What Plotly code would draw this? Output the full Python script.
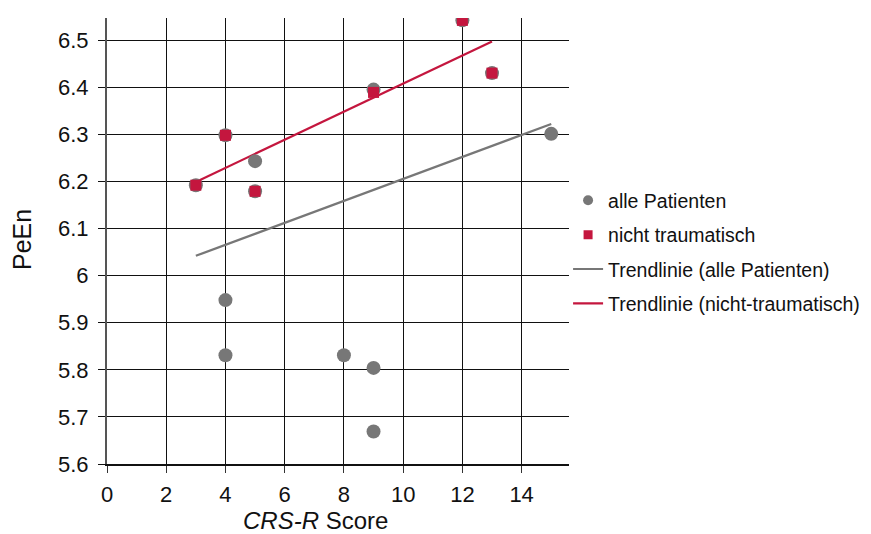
import plotly.graph_objects as go

# data
all_x = [3, 4, 4, 4, 5, 5, 8, 9, 9, 9, 12, 13, 15]
all_y = [6.192, 6.298, 5.948, 5.831, 6.243, 6.179, 5.831, 6.395, 5.804, 5.669, 6.542, 6.430, 6.301]
nt_x = [3, 4, 5, 9, 12, 13]
nt_y = [6.192, 6.298, 6.179, 6.389, 6.542, 6.430]
trend_all_x = [3, 15]
trend_all_y = [6.042, 6.322]
trend_nt_x = [3, 13]
trend_nt_y = [6.199, 6.497]
x_ticks = [0, 2, 4, 6, 8, 10, 12, 14]
y_ticks = [5.6, 5.7, 5.8, 5.9, 6.0, 6.1, 6.2, 6.3, 6.4, 6.5]
y_labels = ["5.6", "5.7", "5.8", "5.9", "6", "6.1", "6.2", "6.3", "6.4", "6.5"]

GRAY = "#777777"
RED = "#c4163e"
FONT = "Liberation Sans, Arial, sans-serif"

fig = go.Figure()
fig.add_trace(go.Scatter(x=trend_all_x, y=trend_all_y, mode="lines",
                         line=dict(color=GRAY, width=2.2), showlegend=False, hoverinfo="skip"))
fig.add_trace(go.Scatter(x=trend_nt_x, y=trend_nt_y, mode="lines",
                         line=dict(color=RED, width=2.2), showlegend=False, hoverinfo="skip"))
fig.add_trace(go.Scatter(x=all_x, y=all_y, mode="markers",
                         marker=dict(color=GRAY, size=14, symbol="circle"), showlegend=False))
fig.add_trace(go.Scatter(x=nt_x, y=nt_y, mode="markers",
                         marker=dict(color=RED, size=11, symbol="square"), showlegend=False))

# legend entries
fig.add_trace(go.Scatter(x=[None], y=[None], mode="markers", name="alle Patienten",
                         marker=dict(color=GRAY, size=10, symbol="circle"), legendgroup="a"))
fig.add_trace(go.Scatter(x=[None], y=[None], mode="markers", name="nicht traumatisch",
                         marker=dict(color=RED, size=9, symbol="square"), legendgroup="b"))
fig.add_trace(go.Scatter(x=[None], y=[None], mode="lines", name="Trendlinie (alle Patienten)",
                         line=dict(color=GRAY, width=2.2), legendgroup="c"))
fig.add_trace(go.Scatter(x=[None], y=[None], mode="lines", name="Trendlinie (nicht-traumatisch)",
                         line=dict(color=RED, width=2.2), legendgroup="d"))

fig.update_layout(
    width=871, height=534,
    margin=dict(l=99, r=310, t=10, b=78),
    plot_bgcolor="white", paper_bgcolor="white",
    font=dict(family=FONT, size=20, color="#111111"),
    legend=dict(x=0.998, xanchor="left", y=0.475, yanchor="middle",
                font=dict(size=19.5, color="#111111"), tracegroupgap=6,
                bgcolor="rgba(0,0,0,0)"),
    xaxis=dict(range=[0, 15.6], tickvals=x_ticks, showgrid=True, gridcolor="#111111",
               gridwidth=1.3, zeroline=False, showline=True, linecolor="#111111", linewidth=1.5,
               ticks="outside", ticklen=7, tickcolor="#333333", ticklabelstandoff=3,
               tickfont=dict(size=22)),
    yaxis=dict(range=[5.6, 6.547], tickvals=y_ticks, ticktext=y_labels, showgrid=True,
               gridcolor="#111111", gridwidth=1.3, zeroline=False, showline=True,
               linecolor="#555555", linewidth=2, ticks="outside", ticklen=7, tickcolor="#111111",
               ticklabelstandoff=5, tickfont=dict(size=22)),
    annotations=[
        dict(text="<i>CRS-R</i> Score", xref="paper", yref="paper", x=0.452, y=-0.126,
             xanchor="center", yanchor="middle", showarrow=False, font=dict(size=24)),
        dict(text="PeEn", xref="paper", yref="paper", x=-0.184, y=0.5045, textangle=-90,
             xanchor="center", yanchor="middle", showarrow=False, font=dict(size=25)),
    ],
)

fig.write_html("out.html")
